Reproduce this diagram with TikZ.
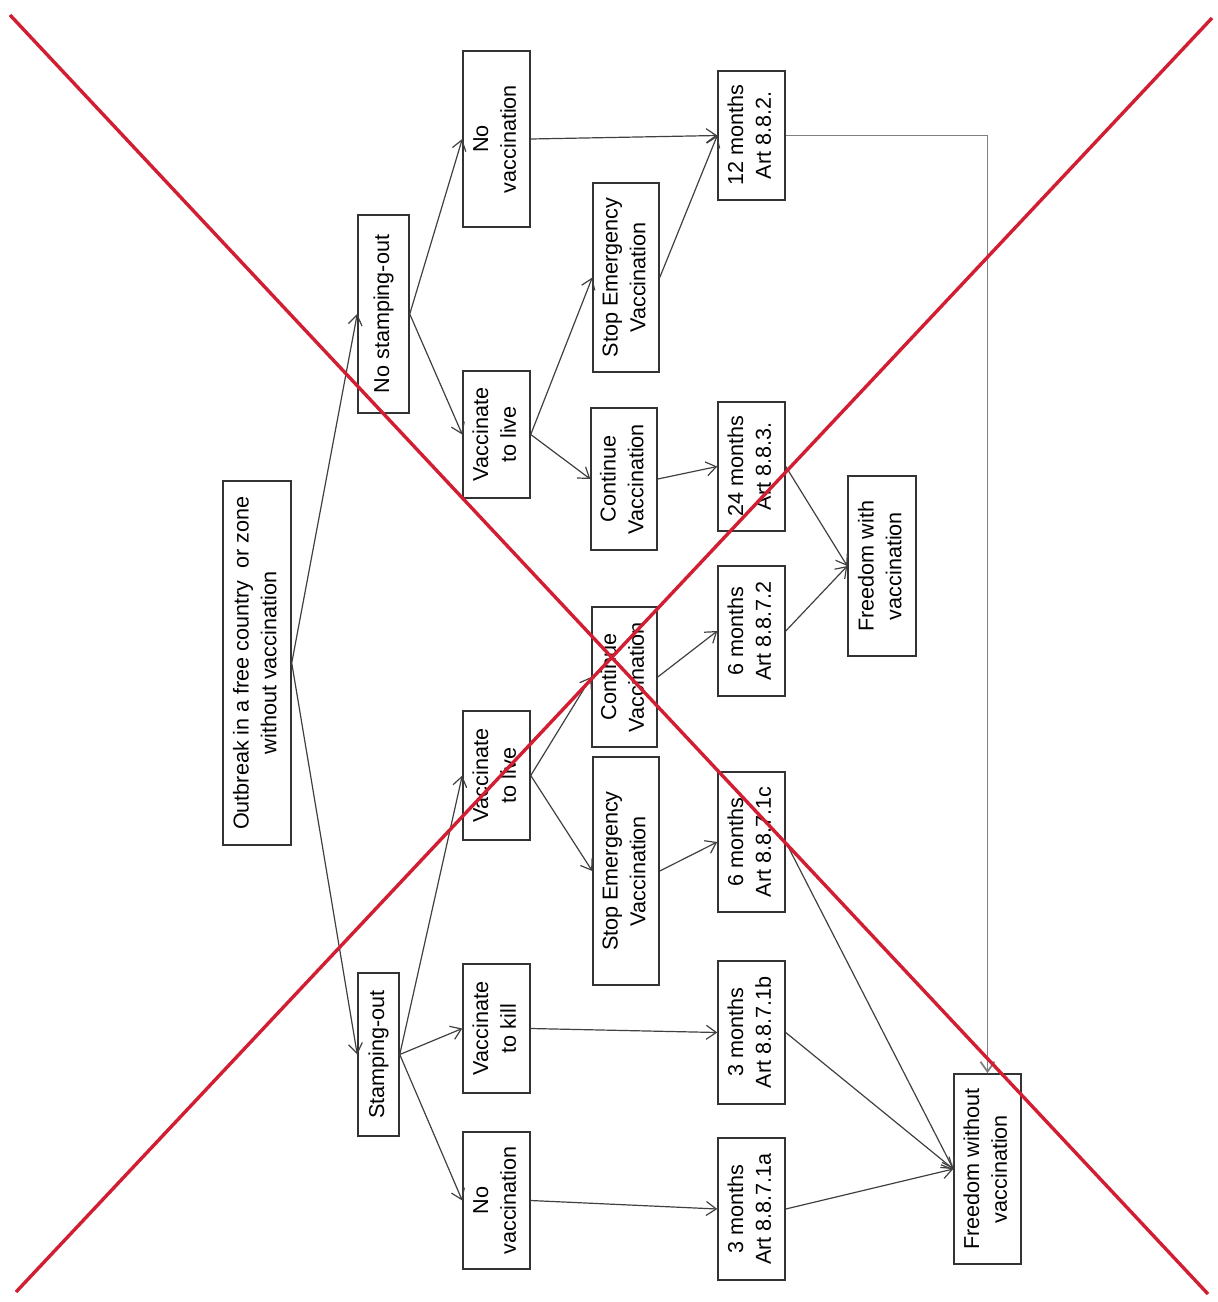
\documentclass[tikz,border=0pt]{standalone}
\usepackage{fontspec}
\setmainfont{Liberation Sans}
\usepackage{graphicx}
\usetikzlibrary{arrows.meta}
\definecolor{xred}{RGB}{210,30,50}
\newcommand\vtxt[1]{\rotatebox{90}{\begin{tabular}{@{}c@{}}#1\end{tabular}}}
\begin{document}
\begin{tikzpicture}[x=0.5pt,y=-0.5pt,
  box/.style 2 args={draw=black!80, line width=0.75pt, inner sep=0pt,
    minimum width=#1*0.5pt, minimum height=#2*0.5pt,
    font=\fontsize{10.8}{13.8}\selectfont},
  conn/.style={draw=black!75, line width=0.6pt, -{Straight Barb[length=5pt,width=7pt]}},
  longconn/.style={draw=black!50, line width=0.9pt, -{Straight Barb[length=5pt,width=7pt]}},
  redx/.style={draw=xred, line width=1.7pt}]
\useasboundingbox (0,0) rectangle (1218,1302);

% column 1
\node[box={68}{364}] (out) at (257,663) {\vtxt{Outbreak in a free country\ \ or zone\\without vaccination}};
% column 2
\node[box={51}{198}] (nso) at (383.5,314) {\vtxt{No stamping-out}};
\node[box={41}{163}] (so) at (378.5,1054.5) {\vtxt{Stamping-out}};
% column 3
\node[box={67}{176}] (nv1) at (496.5,139) {\vtxt{No\\vaccination}};
\node[box={67}{127}] (vl1) at (496.5,434.5) {\vtxt{Vaccinate\\to live}};
\node[box={67}{129}] (vl2) at (496.5,775.5) {\vtxt{Vaccinate\\to live}};
\node[box={67}{129}] (vk) at (496.5,1028.5) {\vtxt{Vaccinate\\to kill}};
\node[box={67}{137}] (nv2) at (496.5,1200.5) {\vtxt{No\\vaccination}};
% column 4
\node[box={66}{189}] (sev1) at (626,277.5) {\vtxt{Stop Emergency\\Vaccination}};
\node[box={66}{142}] (cv1) at (624,479) {\vtxt{Continue\\Vaccination}};
\node[box={65}{140}] (cv2) at (624.5,677) {\vtxt{Continue\\Vaccination}};
\node[box={66}{228}] (sev2) at (626,871) {\vtxt{Stop Emergency\\Vaccination}};
% column 5
\node[box={67}{129}] (m12) at (751.5,135.5) {\vtxt{12 months\\Art 8.8.2.}};
\node[box={67}{129}] (m24) at (751.5,466.5) {\vtxt{24 months\\Art 8.8.3.}};
\node[box={67}{130}] (m6a) at (751.5,631) {\vtxt{6 months\\Art 8.8.7.2}};
\node[box={67}{140}] (m6b) at (751.5,842) {\vtxt{6 months\\Art 8.8.7.1c}};
\node[box={67}{143}] (m3b) at (751.5,1032.5) {\vtxt{3 months\\Art 8.8.7.1b}};
\node[box={67}{142}] (m3a) at (751.5,1209) {\vtxt{3 months\\Art 8.8.7.1a}};
% column 6
\node[box={68}{180}] (fwv) at (882,566) {\vtxt{Freedom with\\vaccination}};
\node[box={67}{190}] (fwo) at (987.5,1169) {\vtxt{Freedom without\\vaccination}};

% connectors
\draw[conn] (out.east) -- (nso.west);
\draw[conn] (out.east) -- (so.west);
\draw[conn] (nso.east) -- (nv1.west);
\draw[conn] (nso.east) -- (vl1.west);
\draw[conn] (nv1.east) -- (m12.west);
\draw[conn] (vl1.east) -- (sev1.west);
\draw[conn] (vl1.east) -- (cv1.west);
\draw[conn] (sev1.east) -- (m12.west);
\draw[conn] (cv1.east) -- (m24.west);
\draw[conn] (m24.east) -- (fwv.west);
\draw[conn] (m6a.east) -- (fwv.west);
\draw[conn] (so.east) -- (vl2.west);
\draw[conn] (so.east) -- (vk.west);
\draw[conn] (so.east) -- (nv2.west);
\draw[conn] (vl2.east) -- (cv2.west);
\draw[conn] (vl2.east) -- (sev2.west);
\draw[conn] (cv2.east) -- (m6a.west);
\draw[conn] (sev2.east) -- (m6b.west);
\draw[conn] (vk.east) -- (m3b.west);
\draw[conn] (nv2.east) -- (m3a.west);
\draw[conn] (m6b.east) -- (fwo.west);
\draw[conn] (m3b.east) -- (fwo.west);
\draw[conn] (m3a.east) -- (fwo.west);
\draw[longconn] (m12.east) -| (fwo.north);

% red cross
\coordinate (r1a) at (10,15);
\coordinate (r1b) at (1208,1294);
\coordinate (r2a) at (1212,18);
\coordinate (r2b) at (16,1292);
\draw[redx] (r1a) -- (r1b);
\draw[redx] (r2a) -- (r2b);
\end{tikzpicture}
\end{document}
